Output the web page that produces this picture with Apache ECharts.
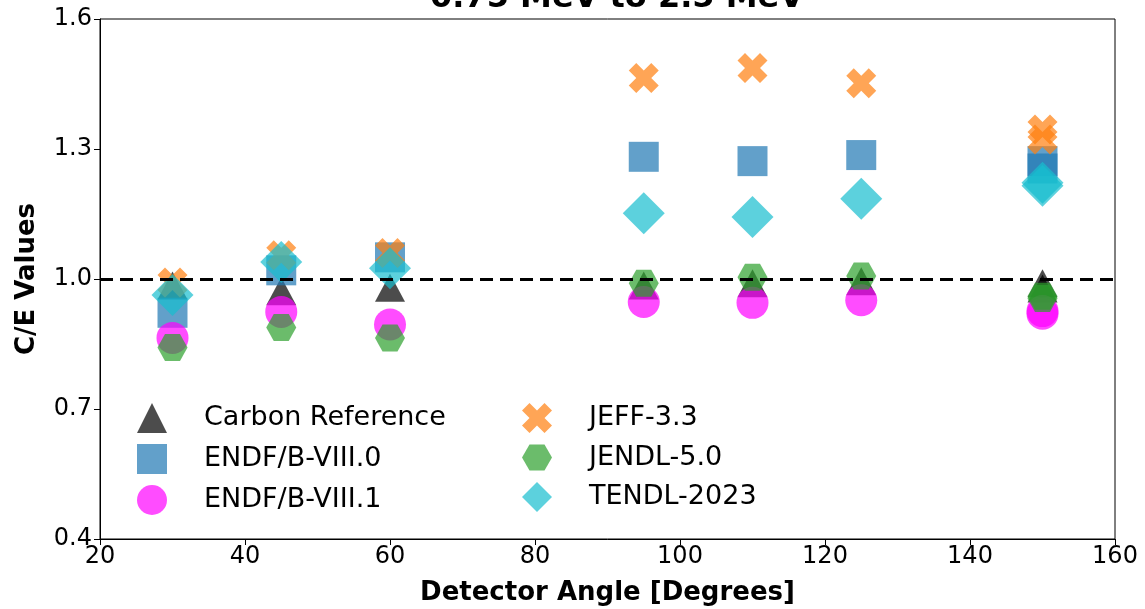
<!DOCTYPE html>
<html>
<head>
<meta charset="utf-8">
<script src="https://cdn.jsdelivr.net/npm/echarts@6/dist/echarts.min.js"></script>
<style>
html,body{margin:0;padding:0;background:#fff;}
#chart{width:1145px;height:609px;}
</style>
</head>
<body>
<div id="chart"></div>
<script>
// ---- data ----
const angles = [30, 45, 60, 95, 110, 125, 150, 150];
const carbonRef = [0.985, 0.972, 0.980, 0.985, 0.990, 0.995, 0.990, 0.978];
const endf80   = [0.922, 1.020, 1.050, 1.282, 1.272, 1.286, 1.272, 1.255];
const endf81   = [0.864, 0.924, 0.895, 0.947, 0.945, 0.951, 0.926, 0.920];
const jeff33   = [0.992, 1.055, 1.060, 1.464, 1.487, 1.452, 1.345, 1.322];
const jendl50  = [0.842, 0.888, 0.864, 0.990, 1.004, 1.007, 0.960, 0.955];
const tendl23  = [0.963, 1.039, 1.025, 1.152, 1.143, 1.185, 1.222, 1.215];
const yTicks = [0.4, 0.7, 1.0, 1.3, 1.6];
const xTicks = [20, 40, 60, 80, 100, 120, 140, 160];
const refLine = 1.0;

const FONT = 'DejaVu Sans';
const X_PATH = 'path://M0,2.5 L2.5,0 L5,2.5 L7.5,0 L10,2.5 L7.5,5 L10,7.5 L7.5,10 L5,7.5 L2.5,10 L0,7.5 L2.5,5 Z';
const HEX_PATH = 'path://M2.5,0 L7.5,0 L10,4.33 L7.5,8.66 L2.5,8.66 L0,4.33 Z';

const defs = [
  {name: 'Carbon Reference', vals: carbonRef, color: 'rgba(0,0,0,0.7)', symbol: 'triangle', size: [30, 28]},
  {name: 'ENDF/B-VIII.0', vals: endf80, color: 'rgba(31,119,180,0.7)', symbol: 'rect', size: [30, 30]},
  {name: 'ENDF/B-VIII.1', vals: endf81, color: 'rgba(255,0,255,0.7)', symbol: 'circle', size: 32},
  {name: 'JEFF-3.3', vals: jeff33, color: 'rgba(255,127,14,0.7)', symbol: X_PATH, size: [30, 30]},
  {name: 'JENDL-5.0', vals: jendl50, color: 'rgba(44,160,44,0.7)', symbol: HEX_PATH, size: [30, 27]},
  {name: 'TENDL-2023', vals: tendl23, color: 'rgba(23,190,207,0.7)', symbol: 'diamond', size: [42, 42]}
];

const series = defs.map(d => ({
  name: d.name,
  type: 'scatter',
  symbol: d.symbol,
  symbolSize: d.size,
  itemStyle: {color: d.color, opacity: 1},
  emphasis: {disabled: true},
  data: angles.map((a, i) => [a, d.vals[i]]),
  z: 2
}));
series.push({
  name: 'ref',
  type: 'scatter',
  data: [],
  z: 5,
  markLine: {
    silent: true,
    symbol: 'none',
    label: {show: false},
    lineStyle: {color: '#000', type: [13, 7], width: 3, opacity: 1},
    data: [{yAxis: refLine}]
  }
});

const legendText = {fontFamily: FONT, fontSize: 27, color: '#000', padding: [0, 0, 0, 32]};

const option = {
  animation: false,
  backgroundColor: '#fff',
  title: {
    text: '0.75 MeV to 2.5 MeV',
    left: 612,
    top: -22,
    textAlign: 'center',
    textStyle: {fontFamily: FONT, fontSize: 32, fontWeight: 'bold', color: '#000'}
  },
  grid: {left: 100, right: 30, top: 19, bottom: 70, show: true, borderColor: '#000', borderWidth: 1,
         containLabel: false, outerBoundsMode: 'none'},
  legend: [
    {
      orient: 'vertical', left: 132, top: 398, itemWidth: 30, itemHeight: 30, itemGap: 11,
      data: defs.slice(0, 3).map(d => ({name: d.name, icon: d.symbol, itemStyle: {opacity: 1}})),
      textStyle: legendText
    },
    {
      orient: 'vertical', left: 517, top: 398, itemWidth: 30, itemHeight: 30, itemGap: 11,
      data: defs.slice(3).map(d => ({name: d.name, icon: d.symbol, itemStyle: {opacity: 1}})),
      textStyle: legendText
    }
  ],
  xAxis: {
    type: 'value', min: xTicks[0], max: xTicks[xTicks.length - 1], interval: 20,
    name: 'Detector Angle [Degrees]', nameLocation: 'middle', nameGap: 41,
    nameTextStyle: {fontFamily: FONT, fontSize: 26, fontWeight: 'bold', color: '#000'},
    axisLine: {show: true, lineStyle: {color: '#000', width: 1}},
    axisTick: {show: true, length: 6, lineStyle: {color: '#000'}},
    axisLabel: {fontFamily: FONT, fontSize: 24, color: '#000', margin: 6},
    splitLine: {show: false}
  },
  yAxis: {
    type: 'value', min: yTicks[0], max: yTicks[yTicks.length - 1], interval: 0.3,
    name: 'C/E Values', nameLocation: 'middle', nameGap: 60,
    nameTextStyle: {fontFamily: FONT, fontSize: 26, fontWeight: 'bold', color: '#000'},
    axisLine: {show: true, lineStyle: {color: '#000', width: 1}},
    axisTick: {show: true, length: 6, lineStyle: {color: '#000'}},
    axisLabel: {fontFamily: FONT, fontSize: 24, color: '#000', margin: 8, formatter: v => v.toFixed(1)},
    splitLine: {show: false}
  },
  series: series
};

const chart = echarts.init(document.getElementById('chart'), null, {renderer: 'canvas'});
chart.setOption(option);
</script>
</body>
</html>
